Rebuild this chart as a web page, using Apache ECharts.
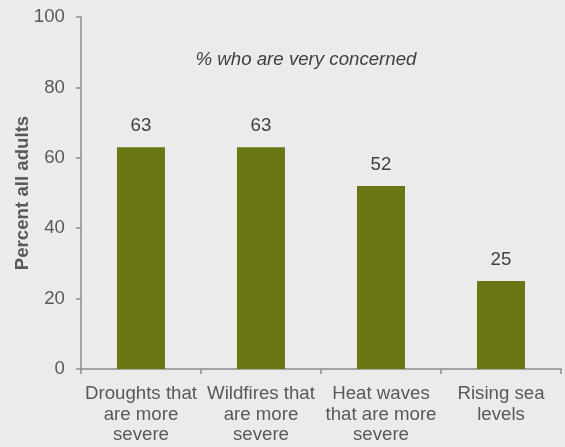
<!DOCTYPE html>
<html><head><meta charset="utf-8">
<script src="https://cdn.jsdelivr.net/npm/echarts@6/dist/echarts.min.js"></script>
<style>html,body{margin:0;padding:0;background:#ebebeb;}#c{width:565px;height:447px;}</style>
</head><body><div id="c"></div>
<script>
var categories = ["Droughts that\nare more\nsevere", "Wildfires that\nare more\nsevere", "Heat waves\nthat are more\nsevere", "Rising sea\nlevels"];
var values = [63, 63, 52, 25];
var yTicks = [0, 20, 40, 60, 80, 100];
var FS = 18.67;
var chart = echarts.init(document.getElementById('c'));
chart.setOption({
  backgroundColor: '#ebebeb',
  animation: false,
  title: {
    text: '% who are very concerned',
    left: 301, top: 45, textAlign: 'center',
    textStyle: {fontFamily: 'Liberation Sans', fontStyle: 'italic', fontWeight: 'normal', fontSize: FS, color: '#404040'}
  },
  grid: {left: 81, right: 4, top: 17, bottom: 78, containLabel: false, outerBoundsMode: 'none'},
  xAxis: {
    type: 'category', data: categories,
    axisLine: {lineStyle: {color: '#8c8c8c', width: 1.5}},
    axisTick: {show: true, alignWithLabel: false, length: 5, lineStyle: {color: '#8c8c8c', width: 1.5}},
    axisLabel: {interval: 0, margin: 15, fontFamily: 'Liberation Sans', fontSize: FS, lineHeight: 20.5, color: '#595959'}
  },
  yAxis: {
    type: 'value', min: 0, max: 100, interval: 20,
    name: 'Percent all adults', nameLocation: 'middle', nameGap: 49, nameMoveOverlap: false,
    nameTextStyle: {fontFamily: 'Liberation Sans', fontWeight: 'bold', fontSize: FS, color: '#595959'},
    axisLine: {show: true, lineStyle: {color: '#8c8c8c', width: 1.5}},
    axisTick: {show: true, length: 5, lineStyle: {color: '#8c8c8c', width: 1.5}},
    splitLine: {show: false},
    axisLabel: {margin: 16, fontFamily: 'Liberation Sans', fontSize: FS, color: '#595959',
      formatter: function(v){ return yTicks.indexOf(v) >= 0 ? String(v) : ''; }}
  },
  series: [{
    type: 'bar', data: values, barWidth: '40%',
    itemStyle: {color: '#6b7614'},
    label: {show: true, position: 'top', distance: 12, fontFamily: 'Liberation Sans', fontSize: FS, color: '#404040'}
  }]
});
</script></body></html>
